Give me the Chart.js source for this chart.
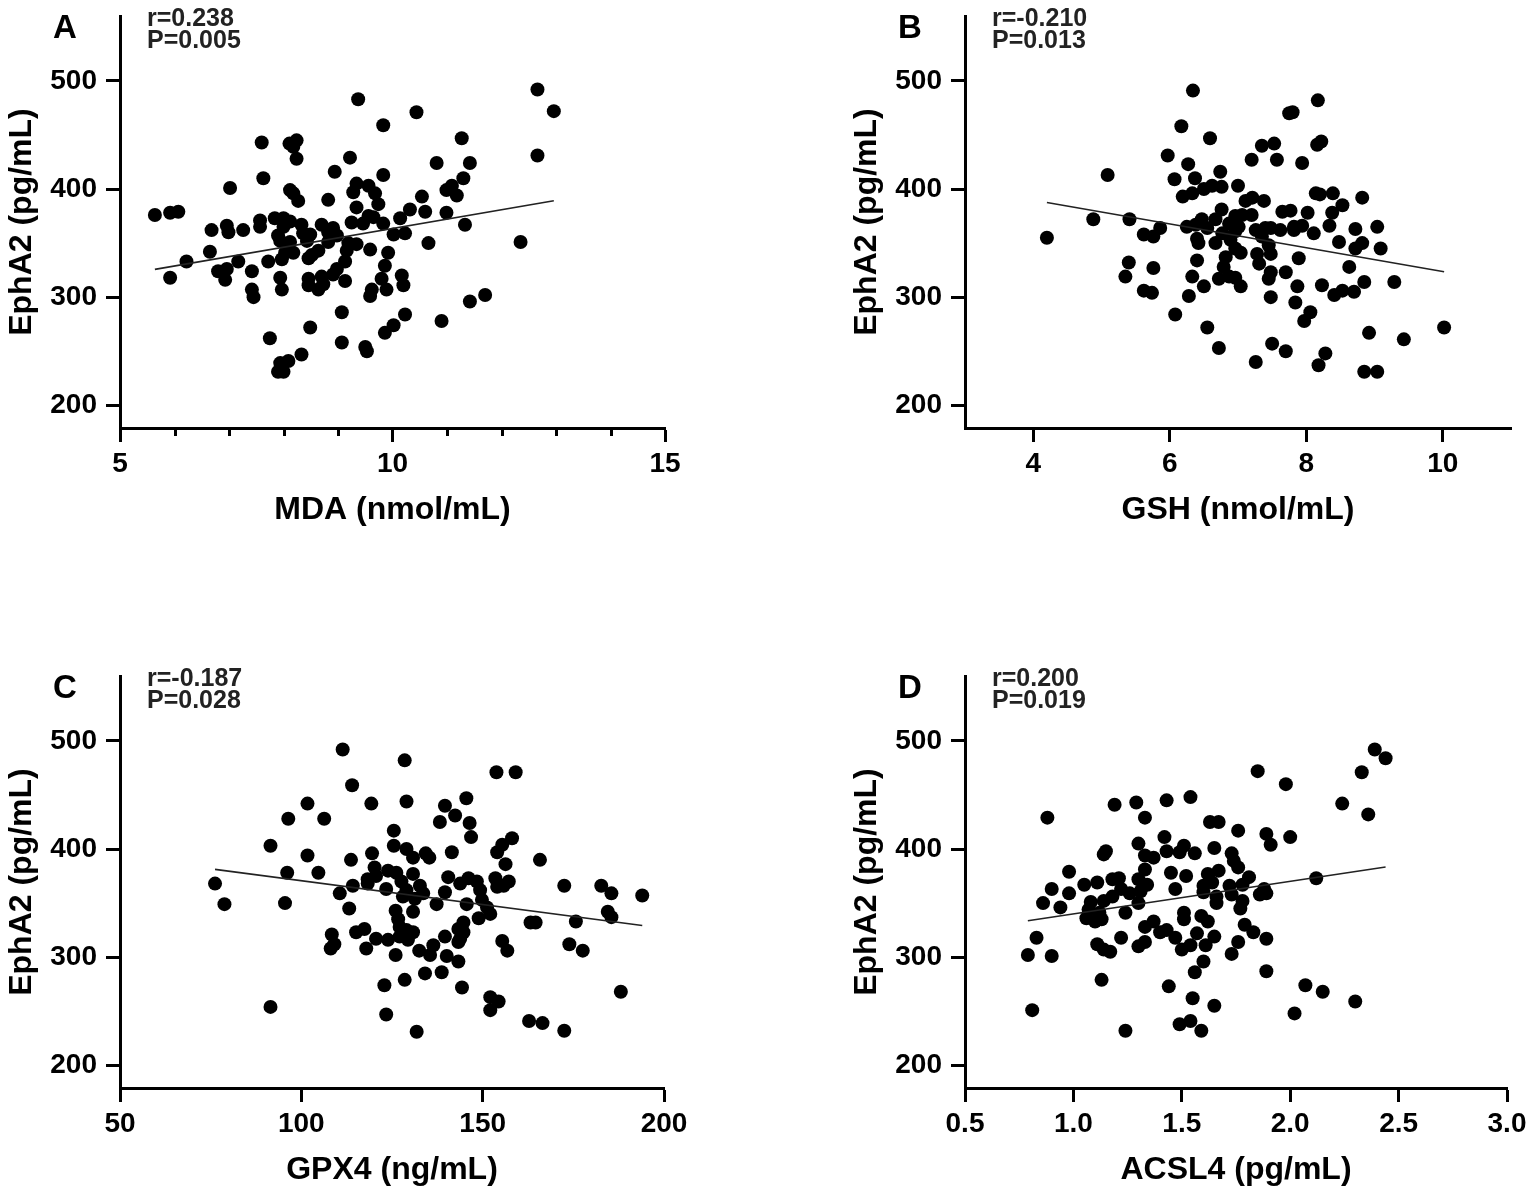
<!DOCTYPE html>
<html>
<head>
<meta charset="utf-8">
<title>EphA2 correlations</title>
<script src="https://cdn.jsdelivr.net/npm/chart.js@4.4.0/dist/chart.umd.min.js"></script>
<style>
  html, body { margin: 0; padding: 0; background: #fff; }
  #page { position: relative; width: 1535px; height: 1195px; overflow: hidden; }
  #page canvas { position: absolute; }
</style>
</head>
<body>
<div id="page">
  <canvas id="chart-a"></canvas>
  <canvas id="chart-b"></canvas>
  <canvas id="chart-c"></canvas>
  <canvas id="chart-d"></canvas>
</div>
<script>
// ---- data ----
const yTicks = [200, 300, 400, 500];
const yRange = [179, 560];

// A: MDA vs EphA2
const mdaTicks = [5, 10, 15];
const mdaMinor = [6, 7, 8, 9, 11, 12, 13, 14];
const mdaX = [
  12.66, 9.37, 12.96, 10.44, 9.83, 11.27, 7.60, 8.11, 8.24, 8.18,
  8.24, 9.22, 12.66, 10.81, 11.42, 8.94, 9.83, 7.63, 11.30, 7.02,
  9.34, 9.56, 11.09, 8.12, 8.18, 9.28, 9.68, 10.99, 11.18, 8.27,
  8.82, 10.54, 9.74, 5.64, 5.92, 6.07, 9.34, 10.32, 10.60, 10.99,
  7.57, 7.84, 8.00, 8.12, 9.56, 9.65, 10.14, 9.25, 9.46, 9.83,
  6.68, 6.96, 6.99, 7.26, 7.57, 8.00, 8.33, 8.70, 8.91, 11.33,
  7.90, 8.36, 8.49, 8.82, 8.98, 10.02, 10.23, 7.94, 8.12, 8.43,
  8.82, 9.19, 9.34, 10.66, 12.35, 6.65, 8.03, 8.18, 8.64, 8.52,
  9.16, 9.59, 9.92, 6.22, 7.17, 7.72, 7.97, 8.46, 9.13, 6.80,
  6.96, 7.42, 8.98, 9.86, 5.92, 6.93, 7.94, 8.46, 8.70, 8.91,
  9.13, 9.80, 10.17, 8.46, 8.73, 7.42, 7.45, 7.97, 8.64, 9.62,
  9.59, 9.89, 10.20, 11.70, 11.42, 9.07, 10.23, 10.90, 8.49, 9.86,
  10.02, 7.75, 9.07, 9.50, 9.53, 8.33, 8.09, 7.94, 8.00, 7.90
];
const mdaY = [
  492, 483, 472, 471, 459, 447, 443, 442, 445, 439,
  428, 429, 431, 424, 424, 416, 413, 410, 410, 401,
  405, 403, 403, 399, 396, 397, 396, 399, 394, 389,
  390, 393, 386, 376, 378, 379, 383, 381, 379, 378,
  371, 373, 373, 370, 375, 374, 373, 369, 368, 368,
  362, 366, 360, 362, 365, 365, 367, 367, 364, 367,
  357, 359, 358, 360, 357, 358, 359, 352, 351, 352,
  351, 350, 349, 350, 351, 342, 341, 341, 343, 339,
  343, 344, 341, 333, 333, 333, 335, 336, 333, 324,
  326, 324, 326, 329, 318, 316, 318, 317, 319, 321,
  315, 317, 320, 311, 312, 307, 300, 307, 307, 307,
  301, 307, 311, 302, 296, 286, 284, 278, 272, 267,
  274, 262, 258, 254, 250, 247, 241, 239, 231, 231
];
const mdaFit = [[5.64, 325.7], [12.96, 389.2]];

// B: GSH vs EphA2
const gshTicks = [4, 6, 8, 10];
const gshX = [
  6.34, 8.17, 7.75, 7.80, 6.17, 6.59, 7.35, 7.53, 8.16, 8.22,
  5.97, 7.20, 7.57, 7.94, 6.27, 5.09, 6.74, 6.07, 6.37, 6.50,
  6.62, 6.76, 7.00, 6.19, 6.33, 8.14, 8.20, 8.39, 8.82, 7.11,
  7.21, 7.38, 8.53, 6.76, 7.65, 7.77, 8.02, 8.38, 4.88, 5.41,
  6.47, 6.67, 6.96, 7.06, 7.20, 6.25, 6.38, 6.55, 6.87, 7.01,
  7.82, 7.94, 8.34, 9.04, 5.86, 5.62, 5.76, 6.77, 6.96, 7.26,
  7.40, 7.48, 7.62, 7.82, 8.11, 8.72, 6.40, 6.42, 6.67, 6.89,
  7.35, 7.45, 8.48, 8.82, 8.72, 9.09, 6.96, 7.04, 7.28, 7.48,
  6.82, 6.40, 7.31, 7.89, 5.40, 5.76, 6.79, 7.48, 7.70, 8.63,
  5.35, 6.33, 6.72, 6.87, 6.96, 7.45, 8.85, 9.29, 5.62, 5.74,
  6.50, 7.04, 7.87, 8.23, 8.41, 8.53, 8.70, 6.28, 7.48, 7.84,
  6.08, 8.06, 7.97, 6.55, 8.92, 9.43, 10.02, 6.72, 7.50, 7.70,
  8.28, 8.18, 7.26, 8.85, 9.04, 4.20
];
const gshY = [
  491, 482, 470, 471, 458, 447, 440, 442, 441, 444,
  431, 427, 427, 424, 423, 413, 416, 409, 410, 400,
  403, 402, 403, 393, 396, 396, 395, 396, 392, 389,
  392, 389, 385, 381, 379, 380, 378, 378, 372, 372,
  372, 372, 375, 376, 376, 365, 367, 364, 368, 365,
  365, 366, 366, 365, 364, 358, 356, 359, 361, 362,
  364, 364, 362, 362, 359, 363, 354, 350, 350, 353,
  356, 348, 351, 350, 345, 345, 345, 341, 340, 340,
  337, 334, 331, 336, 332, 327, 328, 323, 323, 328,
  319, 319, 317, 319, 318, 317, 314, 314, 306, 304,
  310, 310, 310, 311, 302, 306, 305, 301, 300, 295,
  284, 286, 278, 272, 267, 261, 272, 253, 257, 250,
  248, 237, 240, 231, 231, 355
];
const gshFit = [[4.20, 387.6], [10.02, 323.5]];

// C: GPX4 vs EphA2
const gpxTicks = [50, 100, 150, 200];
const gpxX = [
  111.4, 128.5, 153.8, 159.1, 114.0, 101.7, 119.3, 129.0, 145.5, 96.4,
  106.3, 139.6, 142.4, 138.2, 146.4, 146.8, 125.5, 158.1, 155.4, 91.5,
  101.7, 119.5, 125.5, 129.0, 130.8, 134.3, 135.3, 141.5, 154.0, 165.8,
  113.7, 156.3, 96.1, 104.7, 120.2, 123.9, 126.2, 130.8, 118.3, 120.6,
  127.6, 132.7, 140.5, 143.8, 146.1, 148.4, 153.5, 157.2, 76.2, 114.2,
  118.3, 123.4, 129.0, 133.6, 139.6, 149.3, 154.0, 155.8, 172.5, 182.7,
  185.5, 194.0, 78.8, 95.5, 110.6, 128.0, 131.3, 137.3, 145.6, 149.8,
  113.2, 126.0, 130.8, 151.2, 184.5, 185.5, 126.7, 144.7, 148.9, 152.1,
  163.2, 164.6, 175.7, 115.1, 117.4, 127.1, 129.0, 130.8, 143.3, 108.4,
  120.6, 123.9, 127.1, 129.4, 139.6, 143.8, 144.7, 109.1, 108.1, 117.9,
  143.3, 155.4, 156.8, 173.9, 177.6, 126.0, 132.5, 135.5, 136.4, 140.1,
  143.3, 122.9, 128.5, 134.1, 138.7, 144.3, 188.1, 91.5, 152.1, 154.4,
  152.1, 123.4, 131.8, 162.8, 166.5, 172.5
];
const gpxY = [
  492, 482, 471, 471, 459, 442, 442, 444, 447, 428,
  428, 440, 431, 425, 424, 411, 417, 410, 404, 403,
  394, 396, 403, 400, 392, 396, 392, 397, 397, 390,
  390, 386, 378, 378, 383, 380, 378, 377, 372, 375,
  370, 366, 374, 368, 373, 370, 373, 370, 368, 366,
  368, 363, 362, 359, 360, 362, 365, 366, 366, 366,
  359, 357, 349, 350, 359, 356, 354, 349, 349, 353,
  345, 343, 342, 346, 342, 337, 335, 332, 336, 340,
  332, 332, 333, 323, 326, 328, 325, 323, 326, 321,
  317, 316, 319, 316, 319, 317, 323, 312, 308, 308,
  314, 315, 306, 312, 306, 302, 306, 302, 311, 301,
  296, 274, 279, 285, 286, 272, 268, 254, 263, 259,
  251, 247, 231, 241, 239, 232
];
const gpxFit = [[76.2, 381.2], [194.0, 329.3]];

// D: ACSL4 vs EphA2
const acslTicks = [0.5, 1.0, 1.5, 2.0, 2.5, 3.0];
const acslX = [
  2.39, 2.44, 1.85, 2.33, 1.98, 1.19, 1.29, 1.43, 1.54, 2.24,
  2.36, 0.88, 1.33, 1.63, 1.67, 1.76, 1.89, 2.00, 1.91, 1.42,
  1.30, 1.14, 1.15, 1.43, 1.49, 1.51, 1.56, 1.65, 1.73, 1.33,
  1.37, 1.74, 0.98, 1.45, 1.52, 1.62, 1.67, 1.76, 1.33, 1.81,
  2.12, 0.90, 1.05, 1.11, 1.18, 1.21, 1.30, 1.34, 1.47, 1.60,
  1.64, 1.72, 1.78, 1.88, 0.98, 0.86, 0.94, 1.08, 1.14, 1.18,
  1.22, 1.26, 1.31, 1.60, 1.66, 1.73, 1.86, 1.89, 1.30, 1.66,
  1.78, 1.07, 1.12, 1.06, 1.10, 1.13, 1.24, 1.77, 1.51, 1.51,
  1.59, 1.62, 0.83, 1.22, 1.33, 1.37, 1.40, 1.43, 1.47, 1.57,
  1.65, 1.79, 1.83, 1.89, 1.11, 1.14, 1.17, 1.30, 1.33, 1.50,
  1.54, 1.61, 1.76, 0.79, 0.90, 1.73, 1.60, 1.56, 1.89, 1.13,
  1.44, 2.07, 2.15, 2.30, 1.55, 1.65, 0.81, 2.02, 1.49, 1.54,
  1.59, 1.24
];
const acslY = [
  492, 484, 472, 471, 460, 441, 443, 445, 448, 442,
  432, 429, 429, 425, 425, 417, 414, 411, 404, 411,
  405, 395, 398, 398, 397, 403, 396, 401, 396, 394,
  392, 389, 379, 378, 375, 377, 380, 383, 381, 374,
  373, 363, 367, 369, 372, 373, 372, 367, 363, 366,
  369, 366, 367, 363, 359, 350, 346, 351, 352, 356,
  363, 359, 361, 360, 356, 358, 358, 359, 350, 350,
  352, 344, 341, 336, 333, 335, 341, 345, 341, 335,
  338, 333, 318, 318, 328, 333, 323, 325, 318, 322,
  319, 330, 323, 317, 312, 307, 305, 310, 314, 307,
  311, 311, 314, 302, 301, 303, 296, 286, 287, 279,
  273, 274, 268, 259, 262, 255, 251, 248, 238, 241,
  232, 232
];
const acslFit = [[0.79, 333.7], [2.44, 383.3]];

// ---- layout (page pixels) ----
const FONT = '"Liberation Sans", Arial, Helvetica, sans-serif';
Chart.defaults.font.family = FONT;

const TICK_SIZE = 28;
const TITLE_SIZE = 32;

// canvases of the top row start above the page so Chart.js' label padding
// does not push the plot area down
const panels = [
  { id: 'chart-a', letter: 'A', r: 'r=0.238', p: 'P=0.005', xTitle: 'MDA (nmol/mL)',
    xs: mdaX, ys: mdaY, fit: mdaFit, xRange: [5, 15], xTicks: mdaTicks, minor: mdaMinor, digits: 0,
    box: { x: 0, y: -20, w: 760, h: 610 }, area: { left: 120, right: 665, top: 16, bottom: 428 } },
  { id: 'chart-b', letter: 'B', r: 'r=-0.210', p: 'P=0.013', xTitle: 'GSH (nmol/mL)',
    xs: gshX, ys: gshY, fit: gshFit, xRange: [3, 11], xTicks: gshTicks, minor: [], digits: 0,
    box: { x: 845, y: -20, w: 690, h: 610 }, area: { left: 965, right: 1511, top: 16, bottom: 428 } },
  { id: 'chart-c', letter: 'C', r: 'r=-0.187', p: 'P=0.028', xTitle: 'GPX4 (ng/mL)',
    xs: gpxX, ys: gpxY, fit: gpxFit, xRange: [50, 200], xTicks: gpxTicks, minor: [], digits: 0,
    box: { x: 0, y: 630, w: 760, h: 565 }, area: { left: 120, right: 664, top: 676, bottom: 1088 } },
  { id: 'chart-d', letter: 'D', r: 'r=0.200', p: 'P=0.019', xTitle: 'ACSL4 (pg/mL)',
    xs: acslX, ys: acslY, fit: acslFit, xRange: [0.5, 3.0], xTicks: acslTicks, minor: [], digits: 1,
    box: { x: 845, y: 630, w: 690, h: 565 }, area: { left: 965, right: 1507, top: 676, bottom: 1088 } }
];

// panel letter, r / P text and the short minor ticks
function overlay(p) {
  return {
    id: 'overlay',
    afterDraw(chart) {
      const { ctx, chartArea: a } = chart;
      const xs = chart.scales.x;
      ctx.save();
      ctx.textBaseline = 'alphabetic';
      ctx.textAlign = 'left';
      ctx.fillStyle = '#000';
      ctx.font = 'bold 33px ' + FONT;
      ctx.fillText(p.letter, a.left - 67, a.top + 22);
      ctx.fillStyle = '#222';
      ctx.font = 'bold 25px ' + FONT;
      ctx.fillText(p.r, a.left + 27, a.top + 10);
      ctx.fillText(p.p, a.left + 27, a.top + 32);
      ctx.strokeStyle = '#000';
      ctx.lineWidth = 3;
      p.minor.forEach(v => {
        const px = Math.round(xs.getPixelForValue(v)) + 0.5;
        ctx.beginPath();
        ctx.moveTo(px, a.bottom);
        ctx.lineTo(px, a.bottom + 8);
        ctx.stroke();
      });
      ctx.restore();
    }
  };
}

function buildChart(p) {
  const cv = document.getElementById(p.id);
  cv.width = p.box.w;
  cv.height = p.box.h;
  cv.style.left = p.box.x + 'px';
  cv.style.top = p.box.y + 'px';

  const halfTitle = TITLE_SIZE * 1.2 / 2;
  const padLeft = p.area.left - 98 - halfTitle - p.box.x;
  const yWidth = p.area.left - p.box.x - padLeft;
  const xHeight = 82 + halfTitle;

  const points = p.xs.map((x, i) => ({ x, y: p.ys[i] }));
  const line = p.fit.map(([x, y]) => ({ x, y }));

  return new Chart(cv, {
    type: 'scatter',
    data: {
      datasets: [
        {
          type: 'line',
          data: line,
          borderColor: '#222',
          borderWidth: 1.6,
          pointRadius: 0,
          fill: false,
          order: 0
        },
        {
          data: points,
          backgroundColor: '#000',
          borderWidth: 0,
          pointRadius: 7,
          order: 1
        }
      ]
    },
    options: {
      responsive: false,
      animation: false,
      events: [],
      layout: {
        padding: {
          left: padLeft,
          top: p.area.top - p.box.y,
          right: p.box.x + p.box.w - p.area.right,
          bottom: p.box.y + p.box.h - p.area.bottom - xHeight
        }
      },
      plugins: {
        legend: { display: false },
        tooltip: { enabled: false }
      },
      scales: {
        x: {
          type: 'linear',
          min: p.xRange[0],
          max: p.xRange[1],
          afterBuildTicks: s => { s.ticks = p.xTicks.map(v => ({ value: v })); },
          afterFit: s => { s.height = xHeight; },
          ticks: {
            callback: v => Number(v).toFixed(p.digits),
            color: '#000',
            font: { size: TICK_SIZE, weight: 'bold' },
            padding: 5,
            maxRotation: 0,
            autoSkip: false
          },
          grid: { drawOnChartArea: false, tickLength: 14, tickWidth: 3, tickColor: '#000' },
          border: { width: 3, color: '#000' },
          title: { display: true, text: p.xTitle, color: '#000', font: { size: TITLE_SIZE, weight: 'bold' }, padding: 0 }
        },
        y: {
          type: 'linear',
          min: yRange[0],
          max: yRange[1],
          afterBuildTicks: s => { s.ticks = yTicks.map(v => ({ value: v })); },
          afterFit: s => { s.width = yWidth; },
          ticks: {
            color: '#000',
            font: { size: TICK_SIZE, weight: 'bold' },
            padding: 9,
            autoSkip: false
          },
          grid: { drawOnChartArea: false, tickLength: 14, tickWidth: 3, tickColor: '#000' },
          border: { width: 3, color: '#000' },
          title: { display: true, text: 'EphA2 (pg/mL)', color: '#000', font: { size: TITLE_SIZE, weight: 'bold' }, padding: 0 }
        }
      }
    },
    plugins: [overlay(p)]
  });
}

panels.forEach(buildChart);
</script>
</body>
</html>
